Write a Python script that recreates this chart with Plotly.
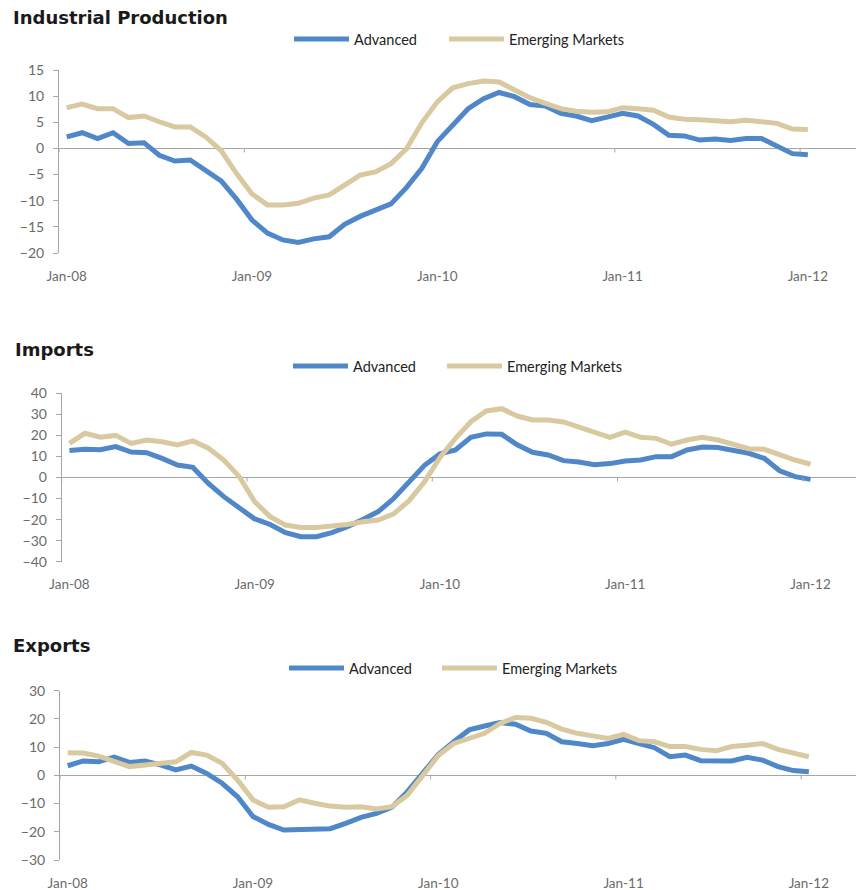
import pandas as pd
import plotly.graph_objects as go

# ---------------- data ----------------
months = pd.date_range("2008-01-01", "2012-01-01", freq="MS")
month_labels = [d.strftime("%b-%y") for d in months]
tick_idx = [0, 12, 24, 36, 48]
tick_labels = ["Jan-08", "Jan-09", "Jan-10", "Jan-11", "Jan-12"]

ip_adv = [2.2, 3.0, 1.9, 3.0, 0.95, 1.1, -1.3, -2.4, -2.2, -4.1,
          -6.2, -9.7, -13.7, -16.2, -17.5, -18.0, -17.3, -16.9, -14.5, -13.0,
          -11.8, -10.6, -7.5, -3.8,
          1.3, 4.3, 7.6, 9.5, 10.7, 9.9, 8.4, 8.1, 6.7, 6.2,
          5.3, 6.0, 6.7, 6.2, 4.6, 2.5, 2.4, 1.6, 1.8, 1.5,
          1.9, 1.9, 0.4, -1.0, -1.2]
ip_em = [7.8, 8.5, 7.6, 7.6, 5.9, 6.2, 5.1, 4.1, 4.1, 2.2,
         -0.4, -4.8, -8.7, -10.8, -10.8, -10.5, -9.5, -8.9, -7.0, -5.1,
         -4.5, -2.9, -0.1, 4.9,
         8.9, 11.6, 12.4, 12.9, 12.7, 11.3, 9.7, 8.6, 7.6, 7.1,
         6.9, 7.0, 7.8, 7.6, 7.3, 6.0, 5.6, 5.5, 5.4, 5.1,
         5.4, 5.2, 4.8, 3.7, 3.6]

imp_adv = [12.8, 13.4, 13.2, 14.7, 12.1, 11.8, 9.1, 5.9, 4.8, -2.8,
           -9.1, -14.7, -19.7, -22.3, -26.2, -28.1, -28.1, -26.2, -23.4, -19.9,
           -16.2, -10.0, -2.0, 5.8,
           11.2, 13.1, 19.1, 20.7, 20.5, 15.5, 12.0, 10.7, 8.0, 7.4,
           6.1, 6.6, 7.8, 8.3, 9.9, 9.9, 13.1, 14.5, 14.2, 13.1,
           11.5, 9.1, 3.2, 0.4, -0.9]
imp_em = [16.2, 21.0, 19.1, 20.0, 16.2, 17.8, 17.0, 15.5, 17.4, 13.9,
          8.3, 0.4, -11.5, -18.6, -22.6, -23.7, -23.7, -23.1, -22.3, -21.0,
          -20.2, -17.3, -11.0, -2.0,
          9.5, 18.6, 26.5, 31.6, 32.7, 29.2, 27.3, 27.3, 26.4, 23.9,
          21.3, 19.1, 21.5, 19.1, 18.6, 15.8, 17.8, 19.1, 17.8, 15.5,
          13.7, 13.4, 10.7, 8.3, 6.3]

exp_adv = [3.4, 5.1, 4.8, 6.5, 4.6, 5.1, 3.7, 1.9, 3.3, 0.7,
           -2.8, -7.6, -14.6, -17.4, -19.4, -19.1, -19.0, -18.9, -17.0, -14.9,
           -13.5, -11.3, -5.8, 0.7,
           7.4, 11.9, 16.1, 17.5, 18.7, 18.1, 15.7, 14.9, 11.9, 11.3,
           10.5, 11.3, 12.8, 11.3, 9.8, 6.6, 7.2, 5.2, 5.1, 5.1,
           6.4, 5.4, 3.1, 1.7, 1.3]
exp_em = [8.0, 7.9, 6.8, 4.8, 3.1, 3.7, 4.3, 4.8, 8.1, 7.2,
          4.3, -1.7, -8.7, -11.3, -11.1, -8.7, -9.9, -10.9, -11.3, -11.1,
          -11.9, -11.1, -7.0, 0.1,
          7.0, 11.3, 13.1, 14.9, 18.4, 20.5, 20.2, 18.8, 16.4, 14.9,
          14.0, 13.1, 14.5, 12.3, 11.9, 10.2, 10.2, 9.2, 8.7, 10.2,
          10.7, 11.3, 9.2, 8.0, 6.6]

titles = ["Industrial Production", "Imports", "Exports"]
series_names = ["Advanced", "Emerging Markets"]
panels = [(ip_adv, ip_em), (imp_adv, imp_em), (exp_adv, exp_em)]
y_ranges = [(-20, 15), (-40, 40), (-30, 30)]
y_dticks = [5, 10, 10]

# ---------------- style ----------------
W, H = 856, 890
COLORS = ["#4F87C8", "#D8C9A1"]
AXIS = "#A6A6A6"
TICKF = "#6B6B6B"
FONT = "Lato, 'Open Sans', sans-serif"
TITLE_FONT = "'DejaVu Sans', 'Open Sans', sans-serif"

# pixel geometry of each panel:
# (plot left, plot top, plot bottom, title x, title y, legend x per series, legend y)
geom = [
    (59, 70, 253, 11, 18, (289, 444), 39),
    (61.7, 393.3, 561.7, 13, 349, (288, 442), 366),
    (60, 690.7, 860, 11, 645, (284, 437), 668),
]
MONTH_PX = 15.44

x_idx = list(range(len(months)))

fig = go.Figure()
leg_no = 0
for k, ((adv, em), (ymin, ymax), dt, g, title) in enumerate(
        zip(panels, y_ranges, y_dticks, geom, titles)):
    left, top, bottom, tx, ty, lxs, ly = g
    n = "" if k == 0 else str(k + 1)
    for vals, name, col, lx in zip((adv, em), series_names, COLORS, lxs):
        leg_no += 1
        legend_id = "legend" if leg_no == 1 else f"legend{leg_no}"
        fig.add_trace(go.Scatter(
            x=x_idx, y=vals, mode="lines", name=name,
            line=dict(color=col, width=5),
            xaxis="x" + n, yaxis="y" + n, legend=legend_id,
            hoverinfo="skip"))
        fig.layout[legend_id] = dict(
            orientation="h", x=lx / W, y=1 - ly / H, xanchor="left", yanchor="middle",
            font=dict(family=FONT, size=14.5, color="#222222"),
            itemwidth=55, bgcolor="rgba(0,0,0,0)")
    xr_max = -0.5 + (W - left) / MONTH_PX
    fig.layout["xaxis" + n] = dict(
        domain=[left / W, 1], anchor="y" + n, range=[-0.5, xr_max],
        showgrid=False, zeroline=False, showline=False, ticks="",
        tickmode="array", tickvals=tick_idx, ticktext=tick_labels,
        ticklabelstandoff=13, automargin=False,
        tickfont=dict(family=FONT, size=13.5, color=TICKF))
    fig.layout["yaxis" + n] = dict(
        domain=[1 - bottom / H, 1 - top / H], anchor="x" + n,
        range=[ymin, ymax], dtick=dt, tick0=0, automargin=False,
        showgrid=False, zeroline=True, zerolinecolor=AXIS, zerolinewidth=1,
        showline=True, linecolor=AXIS, linewidth=1,
        ticks="outside", ticklen=5, tickcolor=AXIS, ticklabelstandoff=6,
        tickfont=dict(family=FONT, size=14, color=TICKF))
    # category-boundary tick marks on the zero line (every 12 months)
    for b in range(-1, len(months), 12):
        fig.add_shape(type="line", xref="x" + n, yref="y" + n,
                      x0=b + 0.5, x1=b + 0.5, ysizemode="pixel", yanchor=0,
                      y0=0, y1=-4, line=dict(color=AXIS, width=1))
    fig.add_annotation(text=f"<b>{title}</b>", x=tx / W, y=1 - ty / H,
                       xref="paper", yref="paper", xanchor="left", yanchor="middle",
                       showarrow=False,
                       font=dict(family=TITLE_FONT, size=18, color="#1A1A1A"))

fig.update_layout(width=W, height=H, margin=dict(l=0, r=0, t=0, b=0, autoexpand=False),
                  plot_bgcolor="white", paper_bgcolor="white", showlegend=True)
fig.write_html("out.html", config={"displayModeBar": False},
               post_script="document.body.style.margin='0';document.body.style.overflow='hidden';")
